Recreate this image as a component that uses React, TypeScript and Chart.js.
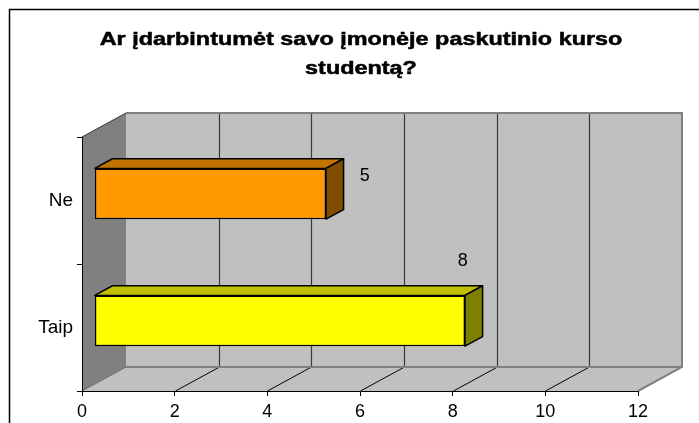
import React, { useEffect, useRef } from 'react';
import { Chart, registerables } from 'chart.js';

Chart.register(...registerables);

// ---- data ----
const titleLines = ['Ar įdarbintumėt savo įmonėje paskutinio kurso', 'studentą?'];
const categories = ['Ne', 'Taip'];
const values = [5, 8];
const xTickValues = [0, 2, 4, 6, 8, 10, 12];
const dataLabels = ['5', '8'];
// data-label anchor positions in data units (value axis, category index)
const labelValuePos = [6.1, 8.22];
const labelCatPos = [-0.195, 0.476];

// ---- styles ----
const frontColors = ['#FF9900', '#FFFF00'];
const topColors = ['#C27400', '#C0C000'];
const sideColors = ['#7F4C00', '#808000'];
const FONT = '"Liberation Sans", Arial, sans-serif';
const DX = 44;
const DY = -24;
const D0 = 0.28;
const D1 = 0.68;

const threeD = {
  id: 'threeD',
  beforeDraw(chart: any) {
    const ctx = chart.ctx;
    const { left, right, top, bottom } = chart.chartArea;
    const xs = chart.scales.x;
    ctx.save();
    ctx.fillStyle = '#fff';
    ctx.fillRect(0, 0, chart.width, chart.height);
    // outer frame
    ctx.strokeStyle = '#000';
    ctx.lineWidth = 1.5;
    ctx.strokeRect(9.5, 9.5, 900, 600);
    // title
    ctx.fillStyle = '#000';
    ctx.strokeStyle = '#000';
    ctx.lineWidth = 0.5;
    ctx.font = 'bold 18px ' + FONT;
    ctx.textAlign = 'center';
    ctx.textBaseline = 'alphabetic';
    const baselines = [45, 73.5];
    titleLines.forEach((t, i) => {
      ctx.save();
      ctx.translate(361, baselines[i]);
      ctx.scale(1.3, 1);
      ctx.fillText(t, 0, 0);
      ctx.strokeText(t, 0, 0);
      ctx.restore();
    });
    // left wall
    ctx.fillStyle = '#808080';
    ctx.beginPath();
    ctx.moveTo(left, top);
    ctx.lineTo(left + DX, top + DY);
    ctx.lineTo(left + DX, bottom + DY);
    ctx.lineTo(left, bottom);
    ctx.closePath();
    ctx.fill();
    // back wall
    ctx.fillStyle = '#C0C0C0';
    ctx.fillRect(left + DX, top + DY, right - left, bottom - top);
    // floor
    ctx.beginPath();
    ctx.moveTo(left, bottom);
    ctx.lineTo(right, bottom);
    ctx.lineTo(right + DX, bottom + DY);
    ctx.lineTo(left + DX, bottom + DY);
    ctx.closePath();
    ctx.fill();
    // back gridlines + floor diagonals
    xTickValues.forEach((v) => {
      if (v === xTickValues[0] || v === xTickValues[xTickValues.length - 1]) return;
      const x = Math.round(xs.getPixelForValue(v)) + 0.5;
      ctx.strokeStyle = '#3a3a3a';
      ctx.lineWidth = 1.2;
      ctx.beginPath();
      ctx.moveTo(x + DX, top + DY);
      ctx.lineTo(x + DX, bottom + DY);
      ctx.stroke();
      ctx.strokeStyle = '#000';
      ctx.lineWidth = 1;
      ctx.beginPath();
      ctx.moveTo(x, bottom);
      ctx.lineTo(x + DX, bottom + DY);
      ctx.stroke();
    });
    // back wall outline
    ctx.strokeStyle = '#808080';
    ctx.lineWidth = 2;
    ctx.beginPath();
    ctx.moveTo(left + DX, top + DY);
    ctx.lineTo(right + DX, top + DY);
    ctx.lineTo(right + DX, bottom + DY);
    ctx.lineTo(right, bottom);
    ctx.stroke();
    ctx.beginPath();
    ctx.moveTo(left + DX, bottom + DY);
    ctx.lineTo(right + DX, bottom + DY);
    ctx.stroke();
    ctx.lineWidth = 1;
    ctx.strokeStyle = '#6a6a6a';
    ctx.beginPath();
    ctx.moveTo(left, bottom);
    ctx.lineTo(left + DX, bottom + DY);
    ctx.stroke();
    ctx.strokeStyle = '#333';
    ctx.beginPath();
    ctx.moveTo(left, top);
    ctx.lineTo(left + DX, top + DY);
    ctx.stroke();
    ctx.restore();
  },
  beforeDatasetsDraw(chart: any) {
    chart.ctx.save();
    chart.ctx.translate(DX * D0, DY * D0);
  },
  afterDatasetsDraw(chart: any) {
    const ctx = chart.ctx;
    ctx.restore();
    const meta = chart.getDatasetMeta(0);
    const fx = DX * D0, fy = DY * D0, bx = DX * D1, by = DY * D1;
    ctx.save();
    ctx.lineWidth = 1.5;
    ctx.strokeStyle = '#000';
    ctx.lineJoin = 'round';
    meta.data.forEach((el: any, i: number) => {
      const p = el.getProps(['x', 'y', 'base', 'height'], true);
      const xL = Math.min(p.x, p.base);
      const xR = Math.max(p.x, p.base);
      const yT = p.y - p.height / 2;
      const yB = p.y + p.height / 2;
      // top face
      ctx.fillStyle = topColors[i];
      ctx.beginPath();
      ctx.moveTo(xL + fx, yT + fy);
      ctx.lineTo(xR + fx, yT + fy);
      ctx.lineTo(xR + bx, yT + by);
      ctx.lineTo(xL + bx, yT + by);
      ctx.closePath();
      ctx.fill();
      ctx.stroke();
      // side face
      ctx.fillStyle = sideColors[i];
      ctx.beginPath();
      ctx.moveTo(xR + fx, yT + fy);
      ctx.lineTo(xR + bx, yT + by);
      ctx.lineTo(xR + bx, yB + by);
      ctx.lineTo(xR + fx, yB + fy);
      ctx.closePath();
      ctx.fill();
      ctx.stroke();
    });
    // data labels
    const xs = chart.scales.x;
    const ys = chart.scales.y;
    ctx.fillStyle = '#000';
    ctx.font = '18px ' + FONT;
    ctx.textAlign = 'center';
    ctx.textBaseline = 'middle';
    dataLabels.forEach((t, i) => {
      ctx.fillText(t, xs.getPixelForValue(labelValuePos[i]), ys.getPixelForValue(labelCatPos[i]));
    });
    ctx.restore();
  },
};

export default function App() {
  const ref = useRef<HTMLCanvasElement>(null);
  useEffect(() => {
    document.body.style.margin = '0';
    const canvas = ref.current;
    if (!canvas) return;
    const chart = new Chart(canvas, {
      type: 'bar',
      data: {
        labels: categories,
        datasets: [
          {
            data: values,
            backgroundColor: frontColors,
            borderColor: '#000',
            borderWidth: 1.5,
            borderSkipped: false,
            barPercentage: 0.4,
            categoryPercentage: 1,
          },
        ],
      },
      options: {
        indexAxis: 'y',
        animation: false,
        responsive: false,
        maintainAspectRatio: false,
        devicePixelRatio: 1,
        layout: { padding: { top: 137, right: 61, left: 0, bottom: 0 } },
        plugins: {
          legend: { display: false },
          title: { display: false },
          tooltip: { enabled: false },
        },
        scales: {
          x: {
            min: 0,
            max: 12,
            afterFit: (s: any) => {
              s.height = 32;
            },
            ticks: { stepSize: 2, color: '#000', padding: 5, font: { family: FONT, size: 18 } },
            grid: { drawOnChartArea: false, drawTicks: true, tickLength: 5, color: '#000' },
            border: { color: '#000', width: 1 },
          },
          y: {
            afterFit: (s: any) => {
              s.width = 82;
            },
            ticks: { color: '#000', padding: 4, font: { family: FONT, size: 19 } },
            grid: { drawOnChartArea: false, drawTicks: true, tickLength: 5, color: '#000', offset: true },
            border: { color: '#000', width: 1 },
          },
        },
      },
      plugins: [threeD],
    } as any);
    return () => chart.destroy();
  }, []);
  return <canvas ref={ref} width={699} height={423} style={{ display: 'block' }} />;
}
